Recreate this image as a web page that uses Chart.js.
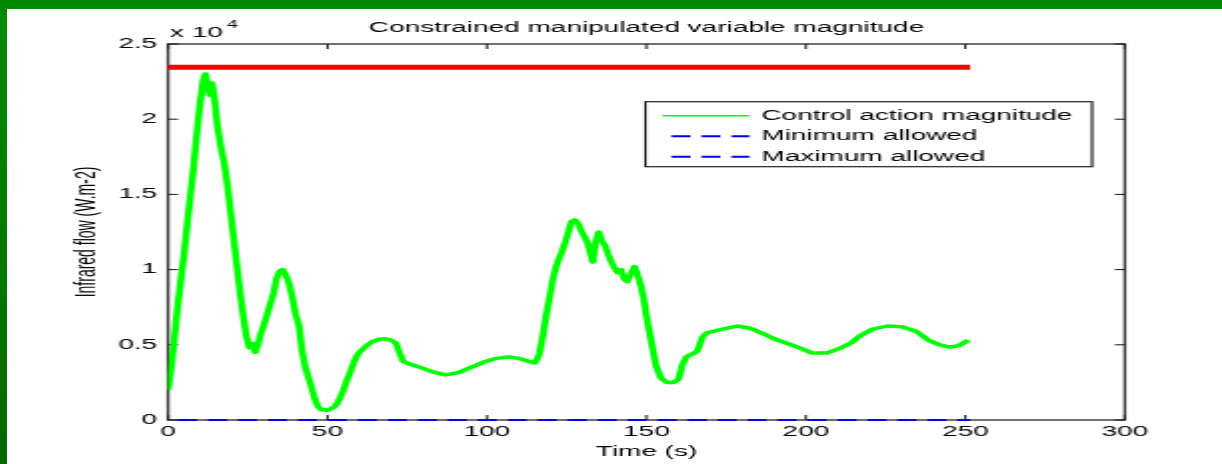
<!DOCTYPE html>
<html>
<head>
<meta charset="utf-8">
<script src="https://cdn.jsdelivr.net/npm/chart.js@4"></script>
<style>
  html, body { margin: 0; padding: 0; background: #fff; }
  body { width: 1222px; height: 464px; position: relative; overflow: hidden; }
  #band { position: absolute; left: 0; top: 0; width: 1222px; height: 9px; background: #008a00; }
  #strip { position: absolute; left: 0; top: 0; width: 7px; height: 464px;
           background: linear-gradient(#008a00, #006800); }
  #chart { position: absolute; left: 7px; top: 9px; }
</style>
</head>
<body>
<div id="band"></div>
<div id="strip"></div>
<canvas id="chart" width="608" height="455" style="width:1215px;height:455px"></canvas>
<script>
const timeS = [0,1,2,3,4,5,6,7,8,9,10,11,11.7,12.5,13,13.8,14.5,15.5,16.5,17.5,18.5,19.5,20.5,21.5,22.5,23.5,24.5,25.5,26.5,27.3,28,29,30,31,32,33,34,35,36,37,38,39,40,41,42,43,44.5,46,47,48,50,52,53,54,55,56,57,58,59,60,62,64,66,68,70,71.5,72.5,73.7,76,79,83,87,91,95,99,103,107,110,113,115,116.3,117.5,118.5,119.5,120.5,121.5,122.5,123.5,124.5,125.5,126.5,127.5,128.5,129.5,130.5,131.5,132.5,133.2,134,135,136,137,138,139,140,141,142,143,144,145,146.3,147.3,148.3,149.2,150,151,152,153,154.5,156.5,158.5,160,161.3,162.5,164.5,166,167.5,169,171,175,178.5,182.5,186,190,194,198,202,206.5,211,214,217,221,225.5,230,234.5,238.5,242,245,248,251];
const controlFlow = [2000,3500,5500,7500,9300,11000,13000,14900,16800,19000,21000,22600,23000,22200,21600,22400,21500,19500,18200,17200,15800,14000,12200,10400,8600,7000,5600,4800,5100,4500,4900,5700,6300,7000,7700,8400,9400,9900,10000,9600,9000,8100,7000,6300,4600,3500,2500,1400,900,700,650,850,1100,1500,2000,2600,3100,3700,4200,4500,4900,5200,5350,5400,5300,5100,4500,3900,3700,3500,3200,3000,3150,3500,3850,4100,4200,4100,3900,3800,4300,5600,6900,8000,9200,10100,10700,11200,11800,12500,13200,13300,13100,12600,12200,11800,11000,10500,11800,12500,11900,11600,11000,10500,10100,9800,10000,9400,9200,9700,10200,9600,8900,8000,6900,5800,4700,3600,2800,2500,2500,2700,3700,4200,4400,4600,5500,5800,5900,6100,6250,6100,5800,5400,5100,4800,4450,4450,4800,5100,5600,6050,6250,6200,5900,5300,5000,4850,4950,5300];
const limitTime = [0, 251.5];
const minAllowed = [0, 0];
const maxAllowed = [23450, 23450];
const xTickLabels = ['0', '50', '100', '150', '200', '250', '300'];
const yTickLabels = ['0', '0.5', '1', '1.5', '2', '2.5'];

const FONT = "'Liberation Sans', Arial, sans-serif";
Chart.defaults.font.family = FONT;
Chart.defaults.font.size = 14;
Chart.defaults.color = '#000';

const pts = (xs, ys) => xs.map((x, i) => ({ x: x, y: ys[i] }));
const BLUE_DASH = [9.5, 5.5];

// MATLAB style box with inward ticks
const axesBox = {
  id: 'axesBox',
  beforeDatasetsDraw(chart) {
    const { ctx, chartArea: a, scales: { x, y } } = chart;
    ctx.save();
    ctx.strokeStyle = '#333';
    ctx.lineWidth = 1.4;
    ctx.strokeRect(a.left, a.top, a.right - a.left, a.bottom - a.top);
    ctx.lineWidth = 1;
    ctx.strokeStyle = '#111';
    ctx.beginPath();
    x.ticks.forEach(t => {
      const px = x.getPixelForValue(t.value);
      ctx.moveTo(px, a.bottom); ctx.lineTo(px, a.bottom - 5);
      ctx.moveTo(px, a.top); ctx.lineTo(px, a.top + 5);
    });
    y.ticks.forEach(t => {
      const py = y.getPixelForValue(t.value);
      ctx.moveTo(a.left, py); ctx.lineTo(a.left + 5, py);
      ctx.moveTo(a.right, py); ctx.lineTo(a.right - 5, py);
    });
    ctx.stroke();
    ctx.restore();
  },
  afterDraw(chart) {
    const { ctx, chartArea: a } = chart;
    ctx.save();
    // exponent label
    ctx.fillStyle = '#000';
    ctx.textBaseline = 'alphabetic';
    ctx.font = '14px ' + FONT;
    ctx.fillText('x 10', a.left + 1, a.top - 7.3);
    const w = ctx.measureText('x 10').width;
    ctx.font = '10px ' + FONT;
    ctx.fillText('4', a.left + 1 + w + 2, a.top - 16.4);

    // legend
    const bx = a.right - 16.4 - 223.5, by = a.top + 57.7, bw = 223.5, bh = 65;
    ctx.fillStyle = '#fff';
    ctx.fillRect(bx, by, bw, bh);
    ctx.strokeStyle = '#222';
    ctx.lineWidth = 1.2;
    ctx.strokeRect(bx, by, bw, bh);
    const items = chart.data.datasets.filter(d => d.inLegend);
    items.forEach((d, i) => {
      const cy = by + 14 + i * 20.5;
      ctx.beginPath();
      ctx.strokeStyle = d.borderColor;
      ctx.lineWidth = d.borderDash ? 2 : 1.5;
      ctx.setLineDash(d.borderDash || []);
      ctx.moveTo(d.borderDash ? bx + 13 : bx + 8.5, cy);
      ctx.lineTo(bx + 52, cy);
      ctx.stroke();
      ctx.setLineDash([]);
      ctx.fillStyle = '#000';
      ctx.font = '14px ' + FONT;
      ctx.textBaseline = 'middle';
      ctx.fillText(d.label, bx + 58, cy);
    });
    ctx.restore();
  }
};

new Chart(document.getElementById('chart'), {
  type: 'line',
  data: {
    datasets: [
      {
        label: 'Upper limit',
        data: pts(limitTime, maxAllowed),
        borderColor: '#ff0000',
        borderWidth: 5,
        pointRadius: 0,
        clip: false
      },
      {
        label: 'Control action magnitude',
        inLegend: true,
        data: pts(timeS, controlFlow),
        borderColor: '#00ff00',
        borderWidth: 3.5,
        borderJoinStyle: 'round',
        pointRadius: 0,
        tension: 0
      },
      {
        label: 'Minimum allowed',
        inLegend: true,
        data: pts(limitTime, minAllowed),
        borderColor: '#0000ee',
        borderWidth: 2,
        borderDash: BLUE_DASH,
        borderDashOffset: 10,
        pointRadius: 0,
        clip: false
      },
      {
        label: 'Maximum allowed',
        inLegend: true,
        data: pts(limitTime, maxAllowed),
        borderColor: '#0000ee',
        borderWidth: 2,
        borderDash: BLUE_DASH,
        pointRadius: 0
      }
    ]
  },
  options: {
    responsive: false,
    animation: false,
    devicePixelRatio: 1,
    layout: { padding: { left: 0, right: 48.6, top: 0, bottom: 0 } },
    plugins: {
      legend: { display: false },
      tooltip: { enabled: false },
      title: {
        display: true,
        text: 'Constrained manipulated variable magnitude',
        fullSize: false,
        font: { size: 14, weight: 'normal' },
        color: '#000',
        padding: { top: 11, bottom: 7.2 }
      }
    },
    scales: {
      x: {
        type: 'linear',
        min: 0,
        max: 300,
        grid: { display: false, drawTicks: false },
        border: { display: false },
        ticks: {
          stepSize: 50,
          padding: 4,
          maxRotation: 0,
          callback: (v, i) => xTickLabels[i]
        },
        title: { display: true, text: 'Time (s)', font: { size: 14 }, padding: { top: 0, bottom: 3.6 } },
        afterFit: s => { s.height = 44; }
      },
      y: {
        type: 'linear',
        min: 0,
        max: 25000,
        grid: { display: false, drawTicks: false },
        border: { display: false },
        ticks: {
          stepSize: 5000,
          padding: 5.5,
          callback: (v, i) => yTickLabels[i]
        },
        title: { display: true, text: 'Infrared flow (W.m-2)', font: { size: 14 }, padding: { top: 32, bottom: 0 } },
        afterFit: s => { s.width = 80.6; }
      }
    }
  },
  plugins: [axesBox]
});
</script>
</body>
</html>
